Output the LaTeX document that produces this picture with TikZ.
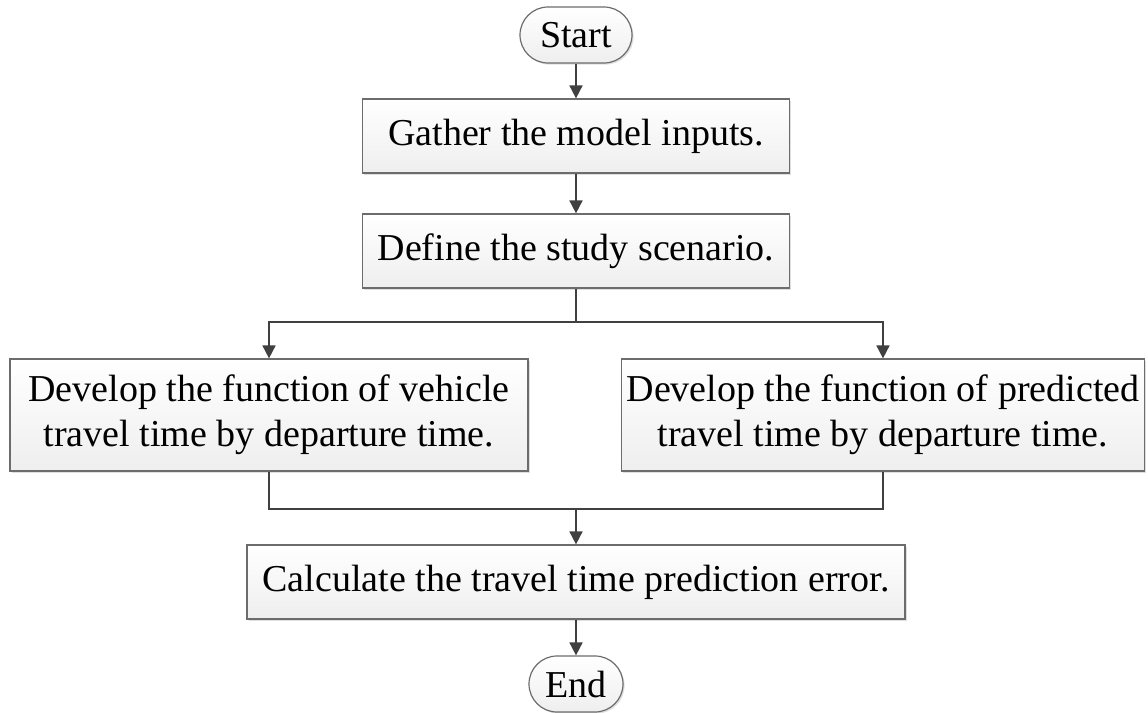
\documentclass[tikz,border=0pt]{standalone}
\usepackage{fontspec}
\setmainfont{Liberation Serif}
\usetikzlibrary{arrows.meta,shadows}

\tikzset{
  box/.style={draw=gray!85!black, line width=0.6pt, top color=white, bottom color=gray!13,
    drop shadow={shadow xshift=0.8pt, shadow yshift=-0.8pt, opacity=0.25},
    align=center, inner sep=2pt, font=\fontsize{19}{22.5}\selectfont},
  term/.style={box, rounded corners=14pt, minimum height=28pt},
  arr/.style={draw=black!75, line width=0.85pt, -{Triangle[length=6.5pt,width=6.5pt]}},
  ln/.style={draw=black!75, line width=0.85pt}
}

\begin{document}
\begin{tikzpicture}[x=0.5pt,y=-0.5pt]
\useasboundingbox (0,0) rectangle (1148,713);

\node[term, minimum width=56pt] (start) at (576,35) {Start};
\node[box, minimum width=213.5pt, minimum height=37pt] (gather) at (576,136) {Gather the model inputs.};
\node[box, minimum width=213.5pt, minimum height=37pt] (define) at (576,251) {Define the study scenario.};
\node[box, minimum width=259pt, minimum height=56pt] (vehicle) at (269,415) {Develop the function of vehicle\\travel time by departure time.};
\node[box, minimum width=261.5pt, minimum height=56pt] (predicted) at (883,415) {Develop the function of predicted\\travel time by departure time.};
\node[box, minimum width=329pt, minimum height=37pt] (calc) at (576,582) {Calculate the travel time prediction error.};
\node[term, minimum width=47pt] (end) at (576,684) {End};

\coordinate (split) at (576,322);
\coordinate (join) at (576,509);

\draw[arr] (start) -- (gather);
\draw[arr] (gather) -- (define);
\draw[ln] (define.south) -- (split);
\draw[arr] (split) -| (vehicle.north);
\draw[arr] (split) -| (predicted.north);
\draw[ln] (vehicle.south) -- (vehicle.south |- join) -- (predicted.south |- join) -- (predicted.south);
\draw[arr] (join) -- (calc);
\draw[arr] (calc) -- (end);
\end{tikzpicture}
\end{document}
